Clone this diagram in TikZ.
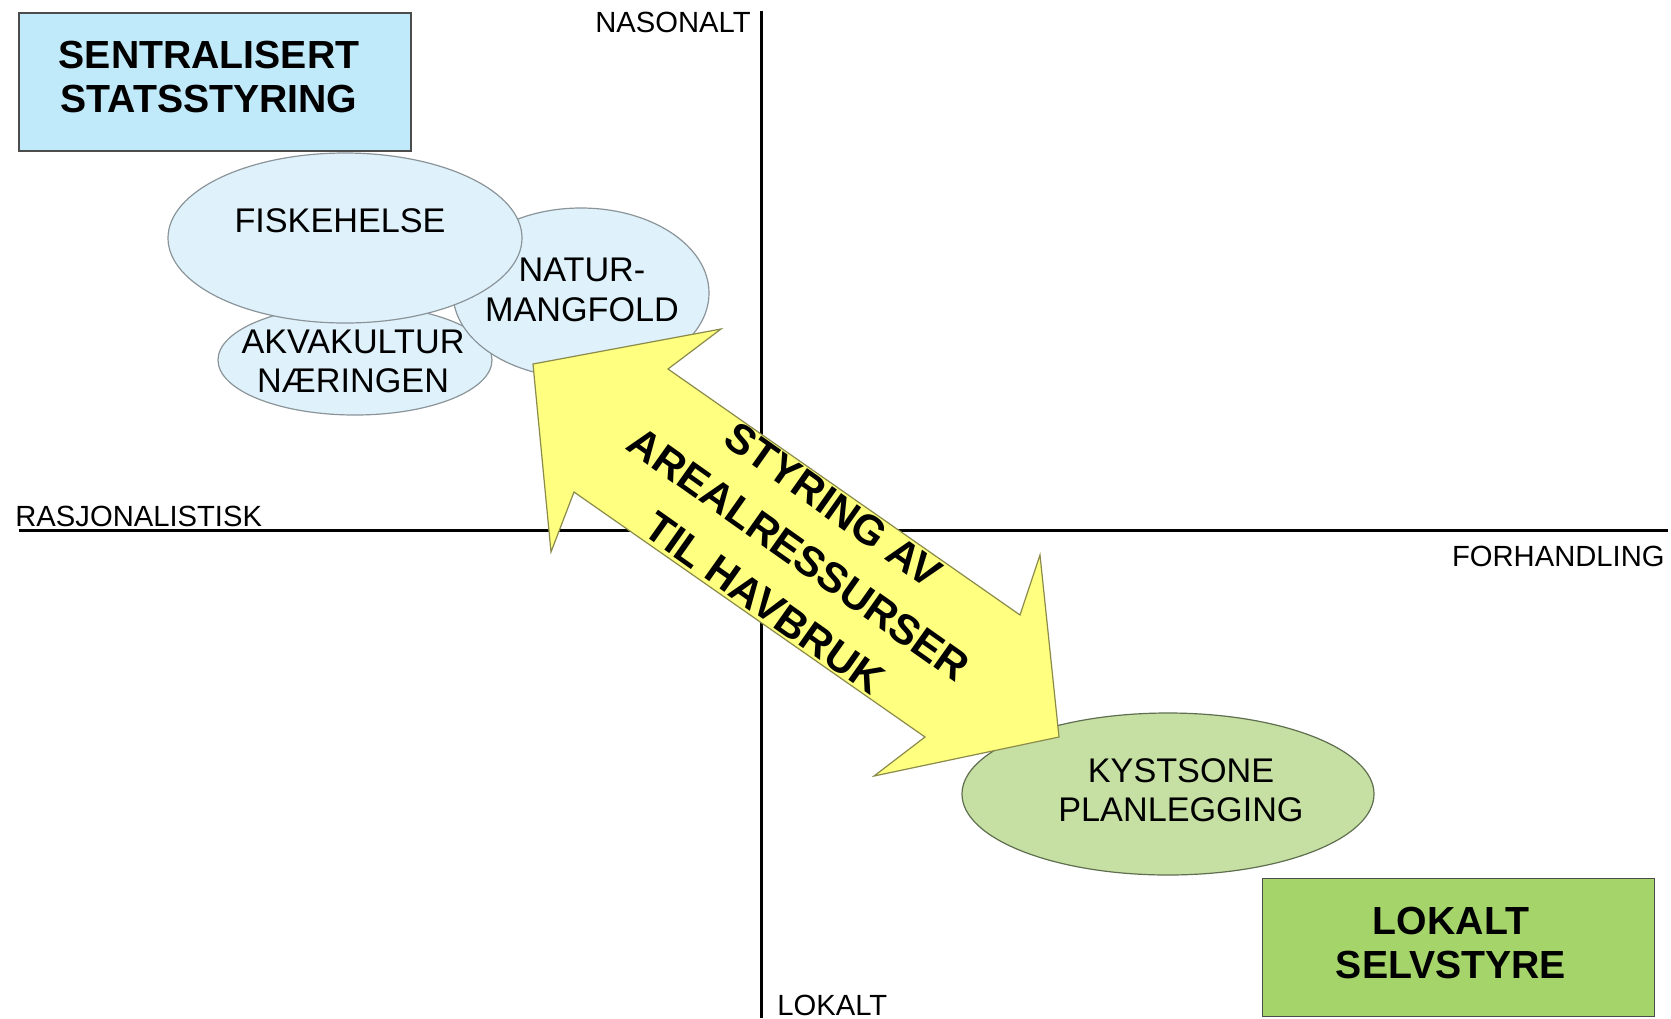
\documentclass[tikz,border=0pt]{standalone}
\usepackage{fontspec}
\setmainfont{Liberation Sans}
\usepackage{xcolor}
\usepackage{tikz}
\usetikzlibrary{shapes.geometric}
\usetikzlibrary{positioning}
\definecolor{boxblue}{HTML}{C0EAFA}
\definecolor{boxgreen}{HTML}{A5D46A}
\definecolor{bubbleblue}{HTML}{DFF2FB}
\definecolor{bubbleline}{HTML}{8A9499}
\definecolor{bubblegreen}{HTML}{C6E0A4}
\definecolor{greenline}{HTML}{5E6E4E}
\definecolor{arrowyellow}{HTML}{FFFF80}
\definecolor{arrowline}{HTML}{8A8A4A}
\tikzset{
    axisline/.style = {line width=1.5pt, draw=black},
    axislabel/.style = {inner sep=0pt, font=\fontsize{14.6}{17}\selectfont},
    headbox/.style = {draw=black!70, line width=0.6pt, inner sep=0pt,
        minimum width=196pt, minimum height=69pt},
    headtext/.style = {inner sep=0pt, align=center,
        font=\bfseries\fontsize{19.6}{22.4}\selectfont},
    bubble/.style = {ellipse, draw=bubbleline, fill=bubbleblue, line width=0.6pt, inner sep=0pt},
    greenbubble/.style = {bubble, draw=greenline, fill=bubblegreen},
    bubtext/.style = {inner sep=0pt, align=center, font=\fontsize{17.1}{19.7}\selectfont},
    bigarrow/.style = {fill=arrowyellow, draw=arrowline, line width=0.6pt},
    arrowtext/.style = {inner sep=0pt, align=center, font=\bfseries\fontsize{21}{30}\selectfont},
}

\begin{document}
\begin{tikzpicture}[x=0.5pt,y=-0.5pt]
    \useasboundingbox (0,0) rectangle (1671,1018);
    \coordinate (ytop) at (761,11);
    \coordinate (ybot) at (761,1018);
    \coordinate (xleft) at (19,530);
    \coordinate (xright) at (1668,530);
    \draw [axisline] (ytop) -- (ybot);
    \draw [axisline] (xleft) -- (xright);
    \node [axislabel, below left=0.2pt and 5pt of ytop] (nasonalt) {NASONALT};
    \node [axislabel, above right=1.1pt and 8pt of ybot] (lokalt) {LOKALT};
    \node [axislabel, above right=1.65pt and -2pt of xleft] (rasjonal) {RASJONALISTISK};
    \node [axislabel, below left=7.7pt and 1.5pt of xright] (forhandl) {FORHANDLING};

    \node [headbox, fill=boxblue] (sentral) at (215,82) {};
    \node [headbox, fill=boxgreen] (selvstyre) at (1458.5,947.5) {};
    \node [headtext] (sentraltxt) at (209,77) {SENTRALISERT\\STATSSTYRING};
    \node [headtext] (selvstyretxt) at (1451,943) {LOKALT\\SELVSTYRE};

    \node [bubble, minimum width=137pt, minimum height=55pt] (akva) at (355,360) {};
    \node [bubble, minimum width=128pt, minimum height=85pt] (natur) at (581,293) {};
    \node [bubble, minimum width=177pt, minimum height=85pt] (fiske) at (345,238) {};
    \node [greenbubble, minimum width=206pt, minimum height=81pt] (kyst) at (1168,794) {};
    \node [bubtext] (fisketxt) at (340,221) {FISKEHELSE};
    \node [bubtext] (naturtxt) at (582,290) {NATUR-\\MANGFOLD};
    \node [bubtext] (akvatxt) at (353,361.5) {AKVAKULTUR\\NÆRINGEN};
    \node [bubtext] (kysttxt) at (1181,790) {KYSTSONE\\PLANLEGGING};

    \coordinate (tipL) at (533,364);
    \coordinate (barbUL) at (721,329);
    \coordinate (neckUL) at (668,369);
    \coordinate (neckUR) at (1020,615);
    \coordinate (barbUR) at (1040,555);
    \coordinate (tipR) at (1059,737);
    \coordinate (barbLR) at (874,776);
    \coordinate (neckLR) at (925,737);
    \coordinate (neckLL) at (574,492);
    \coordinate (barbLL) at (551,552);
    \draw [bigarrow] (tipL) -- (barbUL) -- (neckUL) -- (neckUR) -- (barbUR) -- (tipR)
        -- (barbLR) -- (neckLR) -- (neckLL) -- (barbLL) -- cycle;
    \node [arrowtext, rotate=-35.3] (styring) at (799,554) {STYRING AV\\AREALRESSURSER\\TIL HAVBRUK};
\end{tikzpicture}
\end{document}
